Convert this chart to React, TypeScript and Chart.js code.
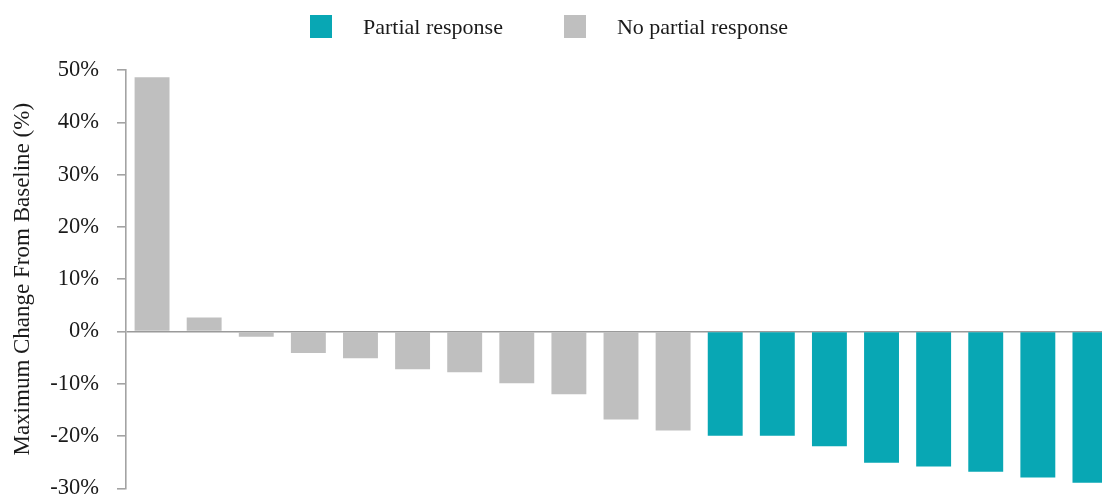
import React, { useEffect, useRef } from 'react';
import { Chart, registerables } from 'chart.js';

Chart.register(...registerables);

// one bar per patient, sorted by best change from baseline
const patients = ['1', '2', '3', '4', '5', '6', '7', '8', '9', '10', '11', '12', '13', '14', '15', '16', '17', '18', '19'];
const maxChange = [48.6, 2.7, -1.0, -4.1, -5.1, -7.2, -7.8, -9.9, -12.0, -16.8, -18.9, -19.9, -19.9, -21.9, -25.1, -25.8, -26.8, -27.9, -28.9];
const partialResponse = [false, false, false, false, false, false, false, false, false, false, false, true, true, true, true, true, true, true, true];

const groupNames = ['Partial response', 'No partial response'];
const groupColors = ['#08A7B4', '#BFBFBF'];

const yTicks = [-30, -20, -10, 0, 10, 20, 30, 40, 50];

const FONT = "'Liberation Serif', 'Times New Roman', serif";
const AXIS_GRAY = '#A3A3A3';

const App: React.FC = () => {
    const canvasRef = useRef<HTMLCanvasElement>(null);

    useEffect(() => {
        if (!canvasRef.current) return;
        const chart = new Chart(canvasRef.current, {
            type: 'bar',
            data: {
                labels: patients,
                datasets: [{
                    label: 'Maximum change',
                    data: maxChange,
                    backgroundColor: partialResponse.map(p => (p ? groupColors[0] : groupColors[1])),
                    borderWidth: 0,
                    barPercentage: 0.67,
                    categoryPercentage: 1,
                }],
            },
            options: {
                animation: false,
                responsive: true,
                maintainAspectRatio: false,
                layout: { padding: { top: 70, bottom: 31, left: 0, right: 0 } },
                plugins: {
                    legend: { display: false },
                    tooltip: { enabled: false },
                },
                scales: {
                    x: {
                        display: false,
                        grid: { display: false },
                    },
                    y: {
                        min: yTicks[0],
                        max: yTicks[yTicks.length - 1],
                        afterBuildTicks: (scale: any) => {
                            scale.ticks = yTicks.map(v => ({ value: v }));
                        },
                        afterFit: (scale: any) => {
                            scale.width = 126;
                        },
                        ticks: {
                            padding: 18,
                            color: '#1a1a1a',
                            font: { family: FONT, size: 22.5 },
                            callback: (v: any) => `${v}%`,
                        },
                        grid: {
                            color: (ctx: any) => (ctx.tick && ctx.tick.value === 0 ? '#9A9A9A' : 'transparent'),
                            tickColor: AXIS_GRAY,
                            tickLength: 9,
                            lineWidth: 1.6,
                        },
                        border: { display: true, color: AXIS_GRAY, width: 1.6 },
                        title: {
                            display: true,
                            text: 'Maximum Change From Baseline (%)',
                            color: '#1a1a1a',
                            font: { family: FONT, size: 23 },
                            padding: { top: 9, bottom: 0 },
                        },
                    },
                },
            },
        });
        return () => chart.destroy();
    }, []);

    return (
        <div style={{ position: 'fixed', left: 0, top: 0, width: 1102, height: 498, overflow: 'hidden', background: '#fff' }}>
            <div style={{ position: 'absolute', left: 0, top: 0, width: 1116, height: 520 }}>
                <canvas ref={canvasRef}></canvas>
            </div>
            <div style={{ position: 'absolute', left: 310, top: 15, display: 'flex', alignItems: 'center', fontFamily: FONT, fontSize: 22, color: '#1a1a1a' }}>
                {groupNames.map((name, i) => (
                    <div key={name} style={{ display: 'flex', alignItems: 'center', marginLeft: i === 0 ? 0 : 61 }}>
                        <span style={{ width: 22, height: 23, background: groupColors[i], display: 'inline-block' }}></span>
                        <span style={{ marginLeft: 31, lineHeight: '23px' }}>{name}</span>
                    </div>
                ))}
            </div>
        </div>
    );
};

export default App;
